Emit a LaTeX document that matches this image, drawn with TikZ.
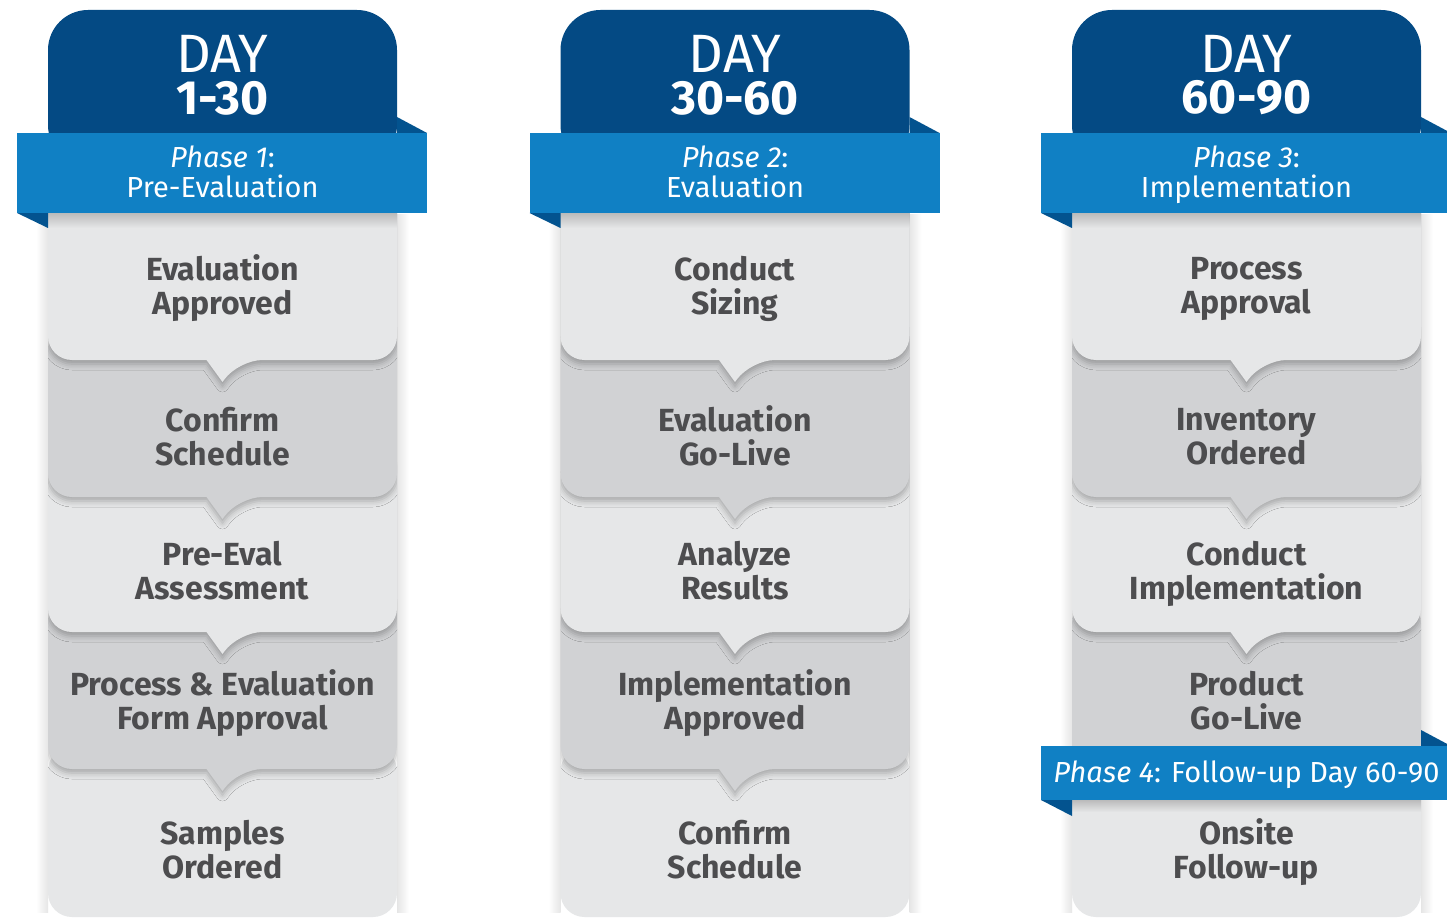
\documentclass[tikz,border=0pt]{standalone}
\usepackage{fontspec}
\setmainfont{Fira Sans}
\usetikzlibrary{shadows.blur}

\definecolor{headblue}{HTML}{044A84}
\definecolor{ribbonblue}{HTML}{1080C4}
\definecolor{foldblue}{HTML}{03538F}
\definecolor{cardlight}{HTML}{E6E7E8}
\definecolor{carddark}{HTML}{D1D2D4}
\definecolor{cardgray}{HTML}{4D4D4F}

% card with a notch below: name, centre x, bottom y, text y, fill, text
\newcommand\stepcard[6]{%
  \begin{scope}
    \clip (#2-174.5,#3-170) rectangle (#2+174.5,#3+40);
    \fill[card=#5] (#2-174.5,#3-170) -- (#2+174.5,#3-170)
      [rounded corners=12pt] -- (#2+174.5,#3) -- (#2+16,#3)
      [sharp corners] -- (#2,#3+22) -- (#2-16,#3)
      [rounded corners=12pt] -- (#2-174.5,#3) -- cycle;
  \end{scope}
  \node[cardtext] (#1) at (#2,#4) {#6};}
% card without notch
\newcommand\lastcard[6]{%
  \fill[#5,rounded corners=12pt] (#2-174.5,#3-170) rectangle (#2+174.5,#3);
  \node[cardtext] (#1) at (#2,#4) {#6};}

\begin{document}
\begin{tikzpicture}[
  x=0.5pt,y=-0.5pt,
  card/.style={fill=#1,blur shadow={shadow xshift=0pt,shadow yshift=-2pt,shadow blur radius=3pt,shadow opacity=28}},
  cardtext/.style={text=cardgray,align=center,text depth=0pt,font=\fontsize{16}{17}\selectfont\bfseries},
  ribbontext/.style={text=white,align=center,text depth=0pt,font=\fontsize{14.5}{15}\selectfont},
  daytext/.style={text=white,inner sep=0pt,font=\fontsize{27}{27}\selectfont},
  daynum/.style={text=white,inner sep=0pt,font=\fontsize{24}{24}\selectfont\bfseries},
  underfold/.style={top color=black!38,bottom color=cardlight,opacity=0.6}
]
  \useasboundingbox[fill=white] (0,0) rectangle (1447,920);

  % soft glow along the columns
  \foreach \xc in {222.5,735,1246.5} {
    \shade[left color=white,right color=black!10] (\xc-186.5,215) rectangle (\xc-174.5,912);
    \shade[left color=black!10,right color=white] (\xc+174.5,215) rectangle (\xc+186.5,912);
  }

  % column 1
  \lastcard{samples}{222.5}{917}{849}{cardlight}{Samples\\Ordered}
  \stepcard{formok}{222.5}{769}{700}{carddark}{Process \& Evaluation\\Form Approval}
  \stepcard{preeval}{222.5}{632}{570}{cardlight}{Pre-Eval\\Assessment}
  \stepcard{confirm1}{222.5}{497}{436}{carddark}{Confirm\\Schedule}
  \stepcard{evalok}{222.5}{360}{285}{cardlight}{Evaluation\\Approved}

  % column 2
  \lastcard{confirm2}{735}{917}{849}{cardlight}{Confirm\\Schedule}
  \stepcard{implok}{735}{769}{700}{carddark}{Implementation\\Approved}
  \stepcard{analyze}{735}{632}{570}{cardlight}{Analyze\\Results}
  \stepcard{golive}{735}{497}{436}{carddark}{Evaluation\\Go-Live}
  \stepcard{sizing}{735}{360}{285}{cardlight}{Conduct\\Sizing}

  % column 3
  \lastcard{onsite}{1246.5}{917}{849}{cardlight}{Onsite\\Follow-up}
  \lastcard{product}{1246.5}{769}{700}{carddark}{Product\\Go-Live}
  \stepcard{implement}{1246.5}{632}{570}{cardlight}{Conduct\\Implementation}
  \stepcard{inventory}{1246.5}{497}{436}{carddark}{Inventory\\Ordered}
  \stepcard{processok}{1246.5}{360}{285}{cardlight}{Process\\Approval}

  % headers and phase ribbons
  \foreach \xc/\days/\num/\pname [count=\c] in {222.5/1-30/1/Pre-Evaluation,735/30-60/2/Evaluation,1246.5/60-90/3/Implementation} {
    \fill[headblue,rounded corners=20pt] (\xc-174.5,10) rectangle (\xc+174.5,165);
    \node[daytext] (day\c) at (\xc,53.5) {DAY};
    \node[daynum] (num\c) at (\xc,98) {\days};
    \shade[underfold] (\xc-174.5,213) rectangle (\xc+174.5,228);
    \fill[foldblue] (\xc+174.5,117) -- (\xc+204.5,133) -- (\xc+174.5,133) -- cycle;
    \fill[foldblue] (\xc-205.5,213) -- (\xc-174.5,228) -- (\xc-174.5,213) -- cycle;
    \fill[ribbonblue] (\xc-205.5,133) rectangle (\xc+204.5,213);
    \node[ribbontext] (phase\c) at (\xc,172) {\textit{Phase \num}:\\\pname};
  }

  % follow-up ribbon
  \shade[underfold] (1072,800) rectangle (1421,812);
  \fill[foldblue] (1421,730) -- (1451,746) -- (1421,746) -- cycle;
  \fill[foldblue] (1041,800) -- (1072,816) -- (1072,800) -- cycle;
  \fill[ribbonblue] (1041,746) rectangle (1451,800);
  \node[ribbontext] (phase4) at (1246.5,772) {\textit{Phase 4}: Follow-up Day 60-90};
\end{tikzpicture}
\end{document}
